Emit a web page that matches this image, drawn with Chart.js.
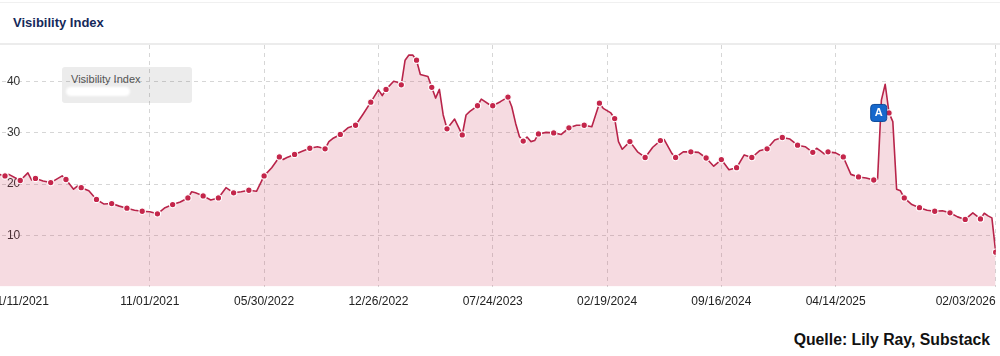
<!DOCTYPE html>
<html>
<head>
<meta charset="utf-8">
<script src="https://cdn.jsdelivr.net/npm/chart.js@4.4.1/dist/chart.umd.min.js"></script>
<style>
  html, body { margin: 0; padding: 0; background: #fff; }
  body { width: 1000px; height: 356px; overflow: hidden; position: relative; font-family: "Liberation Sans", Arial, sans-serif; }
  .topline { position: absolute; left: 0; top: 2px; width: 1000px; height: 1px; background: #f0f0f0; }
  .header { position: absolute; left: 0; top: 0; width: 1000px; height: 43px; border-bottom: 2px solid #ececec; }
  .title { position: absolute; left: 13px; top: 15px; font-size: 13px; font-weight: bold; color: #15295a; }
  .legend { position: absolute; left: 62px; top: 67px; width: 130px; height: 36px; background: #ececec; border-radius: 3px; }
  .legend span { position: absolute; left: 9px; top: 6px; font-size: 11px; color: #555; }
  .legend i { position: absolute; left: 4px; top: 20px; width: 64px; height: 9px; background: #fff; border-radius: 5px; filter: blur(1px); }
  .source { position: absolute; right: 10px; top: 331px; font-size: 15.8px; font-weight: bold; color: #111; }
  #chart { position: absolute; left: -30px; top: 0; }
</style>
</head>
<body>
<div class="topline"></div>
<div class="header"><div class="title">Visibility Index</div></div>
<div class="legend"><span>Visibility Index</span><i></i></div>
<div class="source">Quelle: Lily Ray, Substack</div>
<canvas id="chart" width="1040" height="356"></canvas>
<script>
// weekly data, week 0 = first monthly dot
const weeks = [
  -2, 0, 1, 4, 6, 7, 8, 10, 12, 15, 16, 18, 19, 20, 22, 24, 26, 28, 30, 32,
  34, 36, 38, 40, 42, 44, 46, 48, 49, 50, 52, 54, 56, 58, 60, 62, 64, 66, 68, 70,
  72, 73, 74, 76, 78, 80, 82, 84, 85, 86, 88, 90, 92, 94, 96, 98, 99, 100, 102, 103,
  104, 105, 106, 107, 108, 109, 110, 111, 112, 113, 114, 115, 116, 118, 120, 121, 122, 124, 125, 127,
  128, 130, 132, 133, 134, 135, 136, 137, 138, 139, 140, 142, 144, 146, 148, 150, 152, 154, 156, 157,
  159, 160, 161, 162, 164, 166, 168, 170, 172, 173, 175, 176, 178, 180, 182, 184, 186, 188, 190, 192,
  194, 196, 198, 200, 202, 204, 206, 208, 210, 212, 213, 214, 215, 216, 218, 220, 222, 224, 226, 228,
  229, 230, 231, 232, 233, 234, 235, 236, 238, 240, 242, 244, 246, 248, 250, 252, 254, 256, 257, 258,
  259, 260
];
const visibility = [
  22.0, 21.6, 21.9, 20.7, 22.2, 20.8, 21.1, 20.6, 20.3, 21.6, 20.9, 19.0, 19.6, 19.3, 18.7, 17.0, 16.1, 16.2, 15.7, 15.3,
  14.9, 14.7, 14.6, 14.2, 15.4, 16.0, 16.5, 17.3, 18.5, 18.3, 17.7, 16.9, 17.3, 19.3, 18.3, 18.5, 18.8, 18.6, 21.6, 23.2,
  25.3, 24.8, 25.2, 25.8, 26.4, 27.0, 27.3, 26.9, 28.3, 28.9, 29.7, 31.0, 31.5, 33.7, 36.0, 38.4, 37.3, 38.5, 40.1, 39.9,
  39.4, 44.2, 45.2, 45.2, 44.2, 41.4, 41.2, 41.0, 38.9, 36.8, 38.5, 33.5, 30.8, 32.7, 29.6, 33.5, 34.2, 35.3, 36.6, 35.6,
  35.3, 36.1, 37.0, 35.1, 31.9, 29.3, 28.4, 29.2, 28.3, 28.5, 29.8, 30.1, 30.0, 29.7, 31.0, 31.5, 31.5, 31.2, 35.8, 34.8,
  33.9, 32.8, 28.3, 26.8, 28.3, 26.3, 25.2, 27.2, 28.5, 28.7, 26.0, 25.2, 26.3, 26.3, 26.2, 25.1, 23.5, 24.8, 22.8, 23.2,
  25.7, 25.2, 26.5, 26.9, 28.6, 29.1, 28.8, 27.6, 27.3, 26.2, 27.0, 26.5, 25.9, 26.3, 26.1, 25.3, 21.9, 21.4, 21.2, 20.8,
  21.0, 36.4, 39.5, 33.9, 32.2, 19.0, 18.7, 17.3, 16.0, 15.4, 14.9, 14.7, 14.8, 14.4, 13.6, 13.1, 14.4, 13.2, 14.3, 13.8,
  13.4, 6.7
];
const tickWeeks = [-4, 38, 68, 98, 128, 158, 188, 218, 260];
const tickLabels = ['01/11/2021', '11/01/2021', '05/30/2022', '12/26/2022', '07/24/2023',
                    '02/19/2024', '09/16/2024', '04/14/2025', '02/03/2026'];
const yTicks = [10, 20, 30, 40];
const markerWeek = 229.3;
const markerValue = 33.9;

const lineColor = '#b8244a';
const gridColor = 'rgba(0, 0, 0, 0.16)';
const font = '"Liberation Sans", Arial, sans-serif';

const eventMarker = {
    id: 'eventMarker',
    afterDatasetsDraw(chart) {
        const { ctx, scales: { x, y } } = chart;
        const cx = x.getPixelForValue(markerWeek);
        const cy = y.getPixelForValue(markerValue);
        ctx.save();
        ctx.fillStyle = '#1668cc';
        ctx.strokeStyle = '#0d4a99';
        ctx.lineWidth = 1;
        ctx.beginPath();
        ctx.roundRect(cx - 8, cy - 8.5, 16, 17, 3);
        ctx.fill();
        ctx.stroke();
        ctx.fillStyle = '#fff';
        ctx.font = 'bold 11px ' + font;
        ctx.textAlign = 'center';
        ctx.textBaseline = 'middle';
        ctx.fillText('A', cx, cy + 0.5);
        ctx.restore();
    }
};

new Chart(document.getElementById('chart'), {
    type: 'line',
    data: {
        datasets: [{
            data: weeks.map((w, i) => ({ x: w, y: visibility[i] })),
            borderColor: lineColor,
            borderWidth: 1.6,
            borderJoinStyle: 'round',
            backgroundColor: 'rgba(200, 40, 75, 0.17)',
            fill: 'origin',
            tension: 0,
            pointRadius: ctx => {
                const w = weeks[ctx.dataIndex];
                return (w >= 0 && w % 4 === 0) ? 3.2 : 0;
            },
            pointBackgroundColor: '#c4264b',
            pointBorderColor: '#fff',
            pointBorderWidth: 1.1
        }]
    },
    options: {
        responsive: false,
        animation: false,
        events: [],
        layout: { padding: { left: 15.95, right: 14.3, top: 45, bottom: 39.1 } },
        plugins: { legend: { display: false }, tooltip: { enabled: false } },
        scales: {
            x: {
                type: 'linear',
                min: -5,
                max: 260,
                afterBuildTicks: scale => { scale.ticks = tickWeeks.map(v => ({ value: v })); },
                ticks: {
                    autoSkip: false,
                    maxRotation: 0,
                    align: 'inner',
                    padding: 8,
                    color: '#222',
                    font: { family: font, size: 12 },
                    callback: (v, i) => tickLabels[i]
                },
                grid: { color: gridColor, drawTicks: false },
                border: { display: false, dash: [4, 4] }
            },
            y: {
                min: 0,
                max: 47.17,
                afterBuildTicks: scale => { scale.ticks = yTicks.map(v => ({ value: v })); },
                afterFit: scale => { scale.width = 0; },
                ticks: {
                    mirror: true,
                    padding: 21,
                    color: '#333',
                    font: { family: font, size: 12 }
                },
                grid: { color: gridColor, drawTicks: false },
                border: { display: false, dash: [4, 4] }
            }
        }
    },
    plugins: [eventMarker]
});
</script>
</body>
</html>
